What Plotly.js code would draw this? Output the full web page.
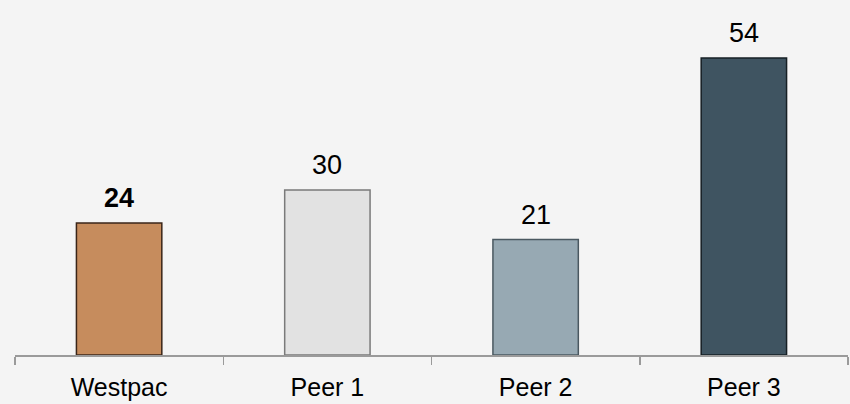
<!DOCTYPE html>
<html>
<head>
<meta charset="utf-8">
<script src="https://cdn.plot.ly/plotly-3.0.1.min.js"></script>
<style>html,body{margin:0;padding:0;background:#f4f4f4;}#chart{width:850px;height:404px;}</style>
</head>
<body>
<div id="chart"></div>
<script>
const categories = ["Westpac", "Peer 1", "Peer 2", "Peer 3"];
const values = [24, 30, 21, 54];
const labels = ["<b>24</b>", "30", "21", "54"];
const colors = ["#c68c5d", "#e2e2e2", "#97a9b3", "#3f5461"];
const edgeColors = ["#3a2518", "#7a7a7a", "#4a5860", "#161f24"];

const trace = {
  type: "bar",
  x: categories,
  y: values,
  width: 0.41,
  marker: { color: colors, line: { color: edgeColors, width: 1.5 } },
  hoverinfo: "skip"
};

const annotations = categories.map((c, i) => ({
  x: c, y: values[i], text: labels[i], showarrow: false,
  xref: "x", yref: "y", yanchor: "bottom", yshift: 8,
  font: { family: "Liberation Sans, Arial, sans-serif", size: 27, color: "#000" }
}));

const layout = {
  width: 850, height: 404,
  margin: { l: 15, r: 2, t: 25, b: 49 },
  paper_bgcolor: "#f4f4f4",
  plot_bgcolor: "#f4f4f4",
  showlegend: false,
  bargap: 0.59,
  xaxis: {
    showline: true, linecolor: "#9a9a9a", linewidth: 1.5,
    ticks: "outside", tickson: "boundaries", ticklen: 8, tickcolor: "#9a9a9a", tickwidth: 1.5,
    ticklabelstandoff: 9,
    tickfont: { family: "Liberation Sans, Arial, sans-serif", size: 25, color: "#000" },
    showgrid: false, zeroline: false, fixedrange: true
  },
  yaxis: { range: [0, 60], visible: false, showgrid: false, zeroline: false, fixedrange: true },
  annotations: annotations
};

Plotly.newPlot("chart", [trace], layout, { displayModeBar: false, staticPlot: true });
</script>
</body>
</html>
